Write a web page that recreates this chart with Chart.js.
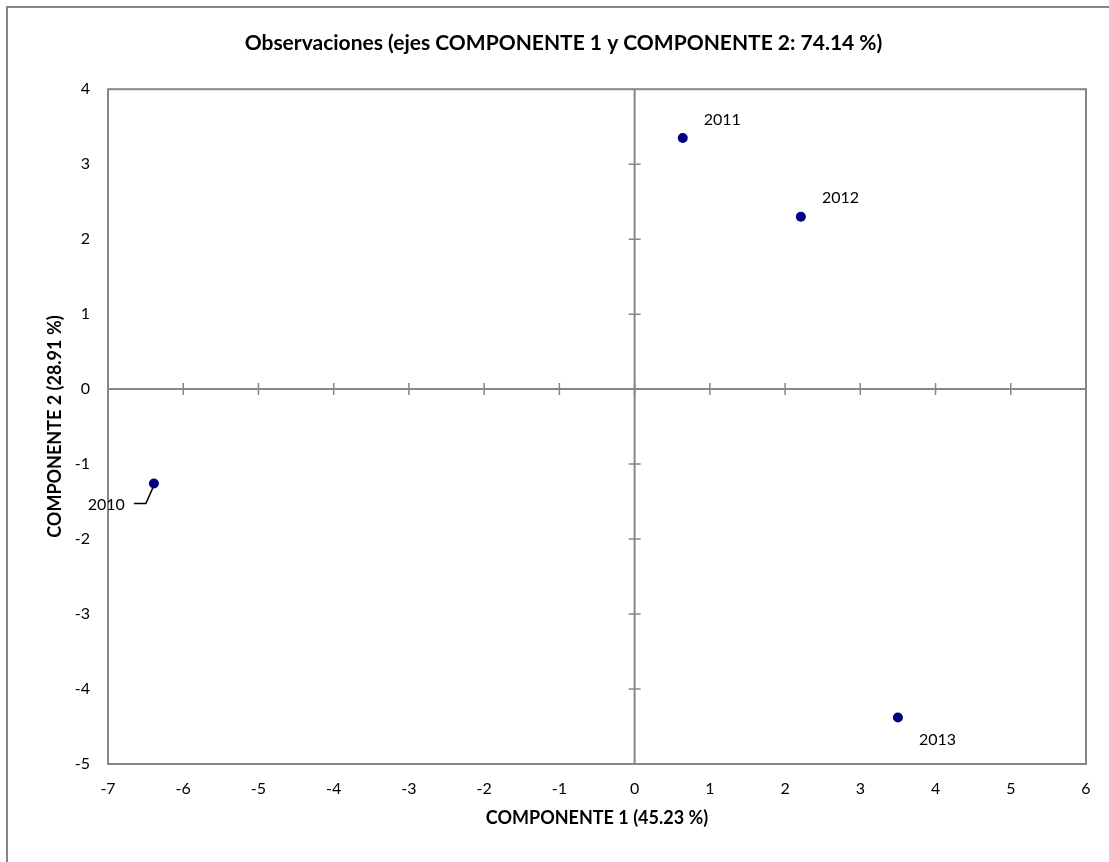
<!DOCTYPE html>
<html>
<head>
<meta charset="utf-8">
<title>Observaciones</title>
<script src="https://cdn.jsdelivr.net/npm/chart.js@4/dist/chart.umd.min.js"></script>
<style>
  html, body { margin: 0; padding: 0; background: #fff; overflow: hidden; }
  #wrap { position: relative; width: 1109px; height: 862px; }
  #frame { position: absolute; left: 6px; top: 6px; width: 1200px; height: 1000px;
           border: 2px solid #868686; box-sizing: border-box; }
  #chart { position: absolute; left: 0; top: 0; }
</style>
</head>
<body>
<div id="wrap">
  <div id="frame"></div>
  <canvas id="chart" width="1109" height="862"></canvas>
</div>
<script>
// Observation scores on the first two principal components
const years = ['2010', '2011', '2012', '2013'];
const componente1 = [-6.39, 0.64, 2.21, 3.50];
const componente2 = [-1.26, 3.35, 2.30, -4.38];

const axisX = { min: -7, max: 6, step: 1 };
const axisY = { min: -5, max: 4, step: 1 };

const FONT = 'Lato';
const AXIS_GREY = '#868686';
const POINT_NAVY = '#000080';

// where each year label sits relative to its point
const labelPlacement = [
  { dx: -29, dy: 21, align: 'right', leader: true },
  { dx: 21, dy: -18, align: 'left' },
  { dx: 21, dy: -19, align: 'left' },
  { dx: 21, dy: 22, align: 'left' }
];

const points = years.map((y, i) => ({ x: componente1[i], y: componente2[i] }));

// plot frame, zero axes and their crossing tick marks
const zeroAxes = {
  id: 'zeroAxes',
  beforeDatasetsDraw(chart) {
    const { ctx, chartArea: a } = chart;
    const xs = chart.scales.x, ys = chart.scales.y;
    const x0 = xs.getPixelForValue(0), y0 = ys.getPixelForValue(0);
    ctx.save();
    ctx.strokeStyle = AXIS_GREY;
    ctx.lineWidth = 2;
    ctx.strokeRect(a.left, a.top, a.right - a.left, a.bottom - a.top);
    ctx.beginPath();
    ctx.moveTo(x0, a.top); ctx.lineTo(x0, a.bottom);
    ctx.moveTo(a.left, y0); ctx.lineTo(a.right, y0);
    ctx.stroke();
    ctx.lineWidth = 1.5;
    ctx.beginPath();
    xs.ticks.forEach(t => {
      if (t.value === xs.min || t.value === xs.max) return;
      const px = xs.getPixelForValue(t.value);
      ctx.moveTo(px, y0 - 6); ctx.lineTo(px, y0 + 6);
    });
    ys.ticks.forEach(t => {
      if (t.value === ys.min || t.value === ys.max) return;
      const py = ys.getPixelForValue(t.value);
      ctx.moveTo(x0 - 6, py); ctx.lineTo(x0 + 6, py);
    });
    ctx.stroke();
    ctx.restore();
  }
};

// year labels beside the points
const yearLabels = {
  id: 'yearLabels',
  afterDatasetsDraw(chart) {
    const { ctx } = chart;
    const meta = chart.getDatasetMeta(0);
    ctx.save();
    ctx.font = '16px ' + FONT;
    ctx.fillStyle = '#000';
    ctx.textBaseline = 'middle';
    meta.data.forEach((el, i) => {
      const p = labelPlacement[i];
      ctx.textAlign = p.align;
      ctx.fillText(years[i], el.x + p.dx, el.y + p.dy);
      if (p.leader) {
        ctx.strokeStyle = '#000';
        ctx.lineWidth = 1.5;
        ctx.beginPath();
        ctx.moveTo(el.x - 20, el.y + 20);
        ctx.lineTo(el.x - 8, el.y + 20);
        ctx.lineTo(el.x - 1, el.y + 4);
        ctx.stroke();
      }
    });
    ctx.restore();
  }
};

new Chart(document.getElementById('chart'), {
  type: 'scatter',
  data: {
    datasets: [{
      label: 'Observaciones',
      data: points,
      pointRadius: 5,
      pointHoverRadius: 5,
      pointBackgroundColor: POINT_NAVY,
      pointBorderColor: POINT_NAVY,
      pointBorderWidth: 0
    }]
  },
  options: {
    responsive: false,
    devicePixelRatio: 1,
    animation: false,
    layout: { padding: { left: 41, right: 23, top: 0, bottom: 28 } },
    plugins: {
      legend: { display: false },
      tooltip: { enabled: false },
      title: {
        display: true,
        text: 'Observaciones (ejes COMPONENTE 1 y COMPONENTE 2: 74.14 %)',
        color: '#000',
        font: { family: FONT, size: 21, weight: 'bold' },
        padding: { top: 31, bottom: 33 }
      }
    },
    scales: {
      x: {
        type: 'linear',
        min: axisX.min,
        max: axisX.max,
        afterFit: s => { s.height = 70; },
        grid: { display: false, drawTicks: false },
        border: { display: false },
        ticks: { stepSize: axisX.step, color: '#000', padding: 15, font: { family: FONT, size: 16 } },
        title: {
          display: true,
          text: 'COMPONENTE 1 (45.23 %)',
          color: '#000',
          font: { family: FONT, size: 18, weight: 'bold' },
          padding: { top: 0, bottom: 5 }
        }
      },
      y: {
        type: 'linear',
        min: axisY.min,
        max: axisY.max,
        afterFit: s => { s.width = 67; },
        grid: { display: false, drawTicks: false },
        border: { display: false },
        ticks: { stepSize: axisY.step, color: '#000', padding: 18, font: { family: FONT, size: 16 } },
        title: {
          display: true,
          text: 'COMPONENTE 2 (28.91 %)',
          color: '#000',
          font: { family: FONT, size: 18, weight: 'bold' },
          padding: { top: 3, bottom: 0 }
        }
      }
    }
  },
  plugins: [zeroAxes, yearLabels]
});
</script>
</body>
</html>
